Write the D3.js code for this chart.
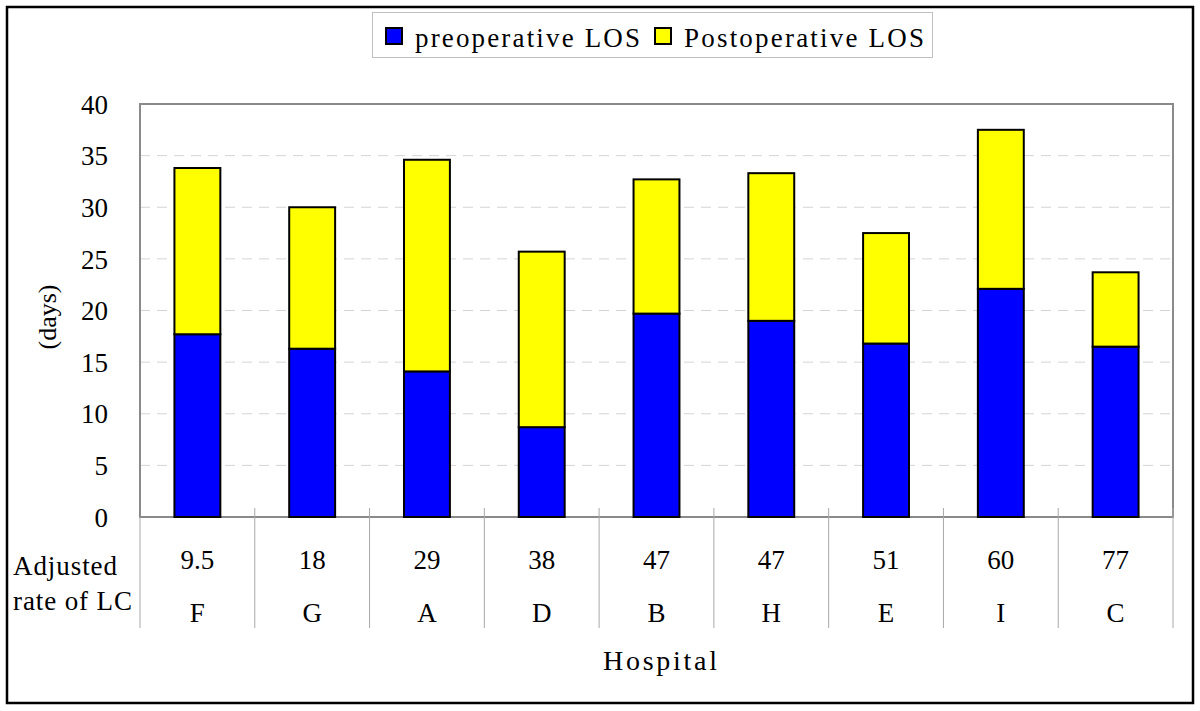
<!DOCTYPE html>
<html><head><meta charset="utf-8">
<script src="https://cdn.jsdelivr.net/npm/d3@7/dist/d3.min.js"></script>
</head><body style="margin:0"><svg id="c" width="1200" height="711"></svg>
<script>
const hospitals = ["F","G","A","D","B","H","E","I","C"];
const adjustedRates = ["9.5","18","29","38","47","47","51","60","77"];
const preoperative = [17.7,16.3,14.1,8.7,19.7,19.0,16.8,22.1,16.5];
const postoperative = [16.1,13.7,20.5,17.0,13.0,14.3,10.7,15.4,7.2];
const seriesNames = ["preoperative LOS","Postoperative LOS"];
const seriesColors = ["#0000ff","#ffff00"];
const yTicks = [0,5,10,15,20,25,30,35,40];

const FONT = d => `'${d}'`;
const svg = d3.select("#c");
const L=140,R=1173,T=104,B=517;
svg.append("rect").attr("x",7).attr("y",7).attr("width",1186).attr("height",696)
  .attr("fill","#fff").attr("stroke","#000").attr("stroke-width",2.5);

const x = d3.scaleBand().domain(hospitals).range([L,R]).paddingInner(0.6).paddingOuter(0.3);
const xb = d3.scaleBand().domain(hospitals).range([L,R]);
const y = d3.scaleLinear().domain([0,40]).range([B,T]);

svg.append("g").selectAll("line").data(yTicks.filter(d=>d>0&&d<40)).join("line")
  .attr("x1",L).attr("x2",R).attr("y1",d=>y(d)).attr("y2",d=>y(d))
  .attr("stroke","#d4d4d4").attr("stroke-dasharray","10,7");

svg.append("rect").attr("x",L).attr("y",T).attr("width",R-L).attr("height",B-T)
  .attr("fill","none").attr("stroke","#8a8a8a").attr("stroke-width",2);

const ya = svg.append("g").attr("transform",`translate(${L},0)`)
  .call(d3.axisLeft(y).tickValues(yTicks).tickSize(0).tickPadding(32));
ya.select(".domain").remove();
ya.selectAll("text").attr("font-size",27).attr("dy","0.34em");

const data = hospitals.map((h,i)=>({h,pre:preoperative[i],post:postoperative[i]}));
const stack = d3.stack().keys(["pre","post"])(data);
svg.append("g").selectAll("g").data(stack).join("g").attr("fill",(d,i)=>seriesColors[i])
  .selectAll("rect").data(d=>d).join("rect")
  .attr("x",d=>x(d.data.h)).attr("width",x.bandwidth())
  .attr("y",d=>y(d[1])).attr("height",d=>y(d[0])-y(d[1]))
  .attr("stroke","#000").attr("stroke-width",2);

const tb = svg.append("g");
const bounds = hospitals.map(h=>xb(h)).concat([R]);
tb.selectAll("line").data(bounds).join("line")
  .attr("x1",d=>d).attr("x2",d=>d).attr("y1",(d,i)=>i==0?B:508).attr("y2",628)
  .attr("stroke","#a8a8a8").attr("stroke-width",1);
tb.selectAll("text.r").data(adjustedRates).join("text").attr("class","r")
  .attr("x",(d,i)=>xb(hospitals[i])+xb.bandwidth()/2).attr("y",569)
  .attr("text-anchor","middle").attr("font-size",27).text(d=>d);
tb.selectAll("text.h").data(hospitals).join("text").attr("class","h")
  .attr("x",d=>xb(d)+xb.bandwidth()/2).attr("y",622)
  .attr("text-anchor","middle").attr("font-size",27).text(d=>d);
svg.append("text").attr("x",13).attr("y",575).attr("font-size",27)
  .attr("textLength",104).attr("lengthAdjust","spacing").text("Adjusted");
svg.append("text").attr("x",13).attr("y",610).attr("font-size",27)
  .attr("textLength",119).attr("lengthAdjust","spacing").text("rate of LC");
svg.append("text").attr("x",603).attr("y",670).attr("font-size",28)
  .attr("textLength",114).attr("lengthAdjust","spacing").text("Hospital");
svg.append("text").attr("transform","translate(56,317) rotate(-90)").attr("text-anchor","middle").attr("font-size",26).text("(days)");

const lg = svg.append("g");
lg.append("rect").attr("x",372.5).attr("y",12.5).attr("width",560).attr("height",45)
  .attr("fill","#fff").attr("stroke","#c0c0c0");
const lx=[386,655], tl=[225,240];
seriesNames.forEach((s,i)=>{
  lg.append("rect").attr("x",lx[i]).attr("y",28).attr("width",16).attr("height",16)
    .attr("fill",seriesColors[i]).attr("stroke","#000").attr("stroke-width",2);
  lg.append("text").attr("x",lx[i]+29).attr("y",47).attr("font-size",27)
    .attr("textLength",tl[i]).attr("lengthAdjust","spacing").text(s);
});
svg.selectAll("text").style("font-family",()=>FONT("Liberation Serif")).style("fill","#000");
</script></body></html>
